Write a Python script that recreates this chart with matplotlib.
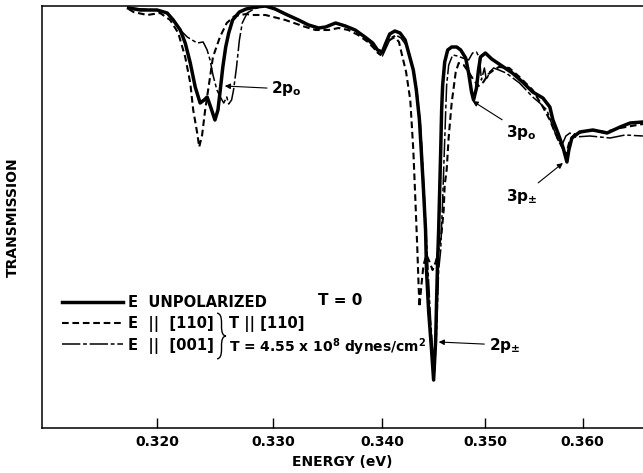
import matplotlib
matplotlib.use('Agg')
import matplotlib.pyplot as plt
from matplotlib.ticker import NullLocator
from matplotlib.path import Path
from matplotlib.patches import PathPatch

# transmission traces (arbitrary units, energy in eV)
e_unpol = [0.31764, 0.31861, 0.32000, 0.32085, 0.32136, 0.32195, 0.32237, 0.32280, 0.32322, 0.32364,
           0.32398, 0.32424, 0.32457, 0.32491, 0.32517, 0.32534, 0.32559, 0.32584, 0.32610, 0.32644,
           0.32703, 0.32762, 0.32847, 0.32932, 0.33018, 0.33109, 0.33227, 0.33318, 0.33409, 0.33473,
           0.33564, 0.33654, 0.33745, 0.33836, 0.33909, 0.33954, 0.34000, 0.34029, 0.34069, 0.34118,
           0.34167, 0.34216, 0.34255, 0.34294, 0.34323, 0.34353, 0.34372, 0.34392, 0.34412, 0.34421,
           0.34441, 0.34470, 0.34490, 0.34510, 0.34519, 0.34529, 0.34539, 0.34549, 0.34559, 0.34568,
           0.34578, 0.34598, 0.34627, 0.34666, 0.34715, 0.34755, 0.34804, 0.34833, 0.34862, 0.34882,
           0.34911, 0.34931, 0.34951, 0.35000, 0.35063, 0.35167, 0.35271, 0.35375, 0.35479, 0.35584,
           0.35656, 0.35688, 0.35740, 0.35792, 0.35834, 0.35854, 0.35886, 0.35969, 0.36108, 0.36259,
           0.36400, 0.36508, 0.36648]
t_unpol = [420, 418, 418, 415, 408, 398, 385, 365, 341, 325,
           328, 331, 320, 308, 318, 335, 361, 381, 395, 408,
           416, 419, 421, 422, 419, 414, 408, 403, 400, 401,
           405, 402, 398, 391, 385, 378, 376, 384, 394, 397,
           395, 388, 373, 358, 338, 308, 275, 238, 198, 158,
           118, 78, 48, 88, 128, 168, 198, 238, 278, 318,
           343, 366, 378, 381, 381, 378, 370, 355, 336, 328,
           340, 358, 371, 375, 369, 362, 355, 346, 336, 330,
           321, 308, 295, 281, 266, 278, 290, 296, 298, 295,
           301, 305, 306]

e_110 = [0.31764, 0.31804, 0.31918, 0.32025, 0.32110, 0.32178, 0.32237, 0.32280, 0.32305, 0.32339,
         0.32356, 0.32381, 0.32407, 0.32449, 0.32474, 0.32534, 0.32593, 0.32661, 0.32762, 0.32813,
         0.32932, 0.33109, 0.33291, 0.33382, 0.33500, 0.33591, 0.33682, 0.33773, 0.33864, 0.33936,
         0.33982, 0.34020, 0.34069, 0.34118, 0.34157, 0.34186, 0.34225, 0.34265, 0.34294, 0.34314,
         0.34333, 0.34343, 0.34353, 0.34372, 0.34392, 0.34421, 0.34451, 0.34480, 0.34510, 0.34539,
         0.34568, 0.34588, 0.34598, 0.34617, 0.34637, 0.34666, 0.34706, 0.34735, 0.34784, 0.34833,
         0.34882, 0.34931, 0.34980, 0.35031, 0.35083, 0.35135, 0.35240, 0.35344, 0.35479, 0.35584,
         0.35656, 0.35729, 0.35782, 0.35823, 0.35865, 0.35917, 0.36076, 0.36238, 0.36400, 0.36648]
t_110 = [419, 416, 413, 415, 408, 395, 371, 345, 318, 295,
         281, 293, 318, 351, 371, 391, 405, 412, 414, 413,
         413, 408, 401, 398, 398, 400, 398, 393, 386, 378,
         373, 380, 388, 391, 386, 373, 356, 328, 278, 228,
         178, 148, 121, 143, 163, 173, 166, 158, 166, 178,
         196, 218, 243, 258, 291, 325, 356, 365, 363, 356,
         348, 342, 346, 354, 358, 361, 360, 351, 338, 321,
         308, 291, 281, 273, 288, 294, 298, 296, 300, 304]

e_001 = [0.31764, 0.32000, 0.32085, 0.32136, 0.32195, 0.32254, 0.32296, 0.32339, 0.32390, 0.32424,
         0.32449, 0.32474, 0.32508, 0.32542, 0.32567, 0.32593, 0.32610, 0.32635, 0.32652, 0.32678,
         0.32703, 0.32728, 0.32771, 0.32830, 0.32915, 0.33018, 0.33109, 0.33227, 0.33318, 0.33409,
         0.33473, 0.33564, 0.33654, 0.33745, 0.33836, 0.33909, 0.33954, 0.34000, 0.34039, 0.34078,
         0.34127, 0.34176, 0.34225, 0.34265, 0.34304, 0.34333, 0.34363, 0.34382, 0.34402, 0.34421,
         0.34441, 0.34461, 0.34480, 0.34500, 0.34519, 0.34529, 0.34539, 0.34559, 0.34568, 0.34578,
         0.34588, 0.34598, 0.34608, 0.34617, 0.34637, 0.34676, 0.34725, 0.34774, 0.34833, 0.34872,
         0.34911, 0.34941, 0.34960, 0.34990, 0.35010, 0.35042, 0.35083, 0.35135, 0.35208, 0.35344,
         0.35479, 0.35552, 0.35625, 0.35688, 0.35740, 0.35782, 0.35823, 0.35865, 0.35917, 0.36076,
         0.36292, 0.36454, 0.36648]
t_001 = [420, 418, 415, 408, 398, 391, 388, 385, 386, 378,
         368, 353, 338, 330, 325, 331, 324, 328, 338, 361,
         388, 405, 415, 419, 422, 419, 414, 408, 403, 400,
         401, 405, 402, 398, 391, 382, 375, 372, 381, 390,
         393, 390, 383, 370, 353, 333, 303, 268, 228, 188,
         148, 108, 78, 58, 98, 128, 158, 178, 203, 228,
         258, 288, 318, 343, 363, 373, 372, 370, 368, 375,
         376, 370, 348, 360, 348, 356, 360, 358, 355, 345,
         331, 325, 318, 301, 288, 283, 292, 295, 291, 292,
         290, 293, 292]

ticks = [0.320, 0.330, 0.340, 0.350, 0.360]
tick_labels = ['0.320', '0.330', '0.340', '0.350', '0.360']


def curly_brace(ax, x0, xt, ytop, ybot, dy):
    # thin "}" drawn in axes fraction coords
    xm = (x0 + xt) / 2
    ym = (ytop + ybot) / 2
    verts = [(x0, ytop), (xm, ytop), (xm, ytop - dy),
             (xm, ym + dy), (xm, ym), (xt, ym),
             (xm, ym), (xm, ym - dy),
             (xm, ybot + dy), (xm, ybot), (x0, ybot)]
    codes = [Path.MOVETO, Path.CURVE3, Path.CURVE3,
             Path.LINETO, Path.CURVE3, Path.CURVE3,
             Path.CURVE3, Path.CURVE3,
             Path.LINETO, Path.CURVE3, Path.CURVE3]
    ax.add_patch(PathPatch(Path(verts, codes), fill=False, lw=1.0, color='black',
                           transform=ax.transAxes, clip_on=False))


plt.rcParams['font.family'] = 'DejaVu Sans'
plt.rcParams['font.weight'] = 'bold'

fig = plt.figure(figsize=(6.43, 4.73), dpi=100)
ax = fig.add_axes([42/643, 45/473, 601/643, 422/473])

# the spectrometer chart is linear in wavelength, i.e. in 1/E
ax.set_xscale('function', functions=(lambda e: -1.0/e, lambda v: -1.0/v))

ax.plot(e_unpol, t_unpol, color='black', lw=2.5, solid_joinstyle='round',
        label='E  UNPOLARIZED')
ax.plot(e_110, t_110, color='black', lw=1.5, linestyle=(0, (3.2, 1.8)),
        label='E  ||  [110]')
ax.plot(e_001, t_001, color='black', lw=1.1, linestyle=(0, (12, 1.8, 2.5, 1.8)),
        label='E  ||  [001]')

ax.set_xlim(0.31067, 0.36649)
ax.set_ylim(0, 422)
ax.set_xticks(ticks)
ax.set_xticklabels(tick_labels)
ax.xaxis.set_minor_locator(NullLocator())
ax.set_yticks([])
ax.tick_params(axis='x', direction='in', length=7, width=1, labelsize=10, pad=5)
ax.spines['right'].set_visible(False)
for s in ['left', 'top', 'bottom']:
    ax.spines[s].set_linewidth(1.1)

ax.set_xlabel('ENERGY (eV)', fontsize=10, fontweight='bold', labelpad=4)
ax.set_ylabel('TRANSMISSION', fontsize=10, fontweight='bold', labelpad=16)

leg = ax.legend(loc='center left', bbox_to_anchor=(0.0333, 0.246), frameon=False,
                fontsize=10.6, handlelength=4.15, handletextpad=0.3,
                labelspacing=0.4, borderpad=0, borderaxespad=0)

ax.text(0.459, 0.303, 'T = 0', transform=ax.transAxes, fontsize=11,
        ha='left', va='center')
curly_brace(ax, 0.2912, 0.3062, 0.272, 0.164, 0.022)
ax.text(0.311, 0.246, 'T || [110]', transform=ax.transAxes, fontsize=10.6,
        ha='left', va='center')
ax.text(0.311, 0.191, 'T = 4.55 x 10$^{8}$ dynes/cm$^{2}$', transform=ax.transAxes,
        fontsize=10, ha='left', va='center')

arrow = dict(arrowstyle='-|>', lw=0.8, color='black', mutation_scale=8,
             shrinkA=1, shrinkB=0)
ax.annotate('2p$_\\mathregular{o}$', xy=(0.32576, 342), xytext=(0.32983, 339),
            fontsize=11, ha='left', va='center', arrowprops=arrow)
ax.annotate('3p$_\\mathregular{o}$', xy=(0.34872, 327), xytext=(0.35208, 296),
            fontsize=11, ha='left', va='center', arrowprops=arrow)
ax.annotate('3p$_{\\pm}$', xy=(0.35792, 265), xytext=(0.35208, 232),
            fontsize=11, ha='left', va='center', arrowprops=arrow)
ax.annotate('2p$_{\\pm}$', xy=(0.34539, 86), xytext=(0.35031, 83),
            fontsize=11, ha='left', va='center', arrowprops=arrow)

fig.savefig('out.png', dpi=100)
